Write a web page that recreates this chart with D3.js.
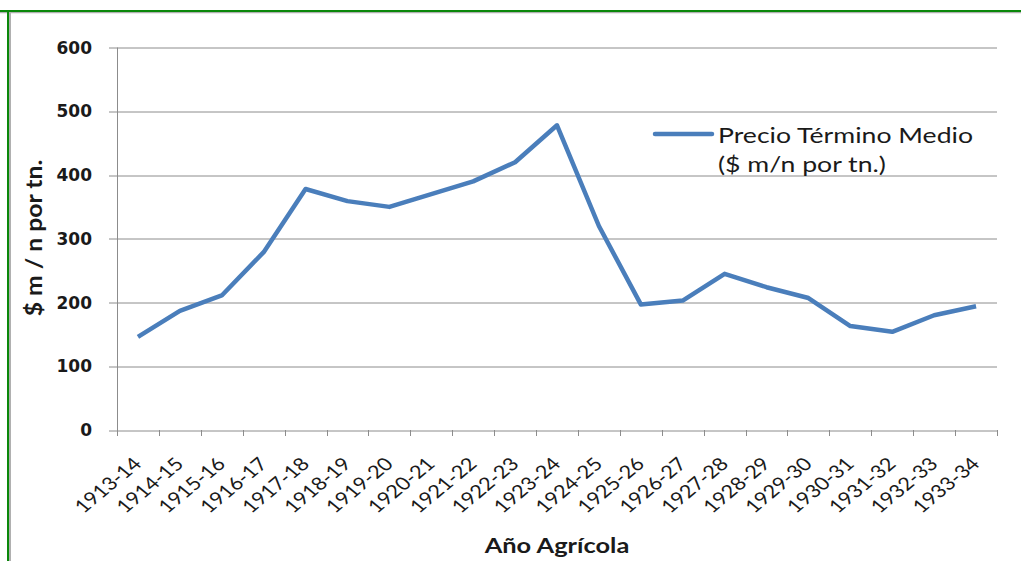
<!DOCTYPE html>
<html>
<head>
<meta charset="utf-8">
<script src="https://cdn.jsdelivr.net/npm/d3@7"></script>
<style>
  html, body { margin: 0; padding: 0; background: #fff; }
  svg { display: block; }
</style>
</head>
<body>
<div id="chart"></div>
<script>
const categories = ['1913-14', '1914-15', '1915-16', '1916-17', '1917-18', '1918-19', '1919-20',
  '1920-21', '1921-22', '1922-23', '1923-24', '1924-25', '1925-26', '1926-27', '1927-28',
  '1928-29', '1929-30', '1930-31', '1931-32', '1932-33', '1933-34'];
const precios = [146, 187, 211, 279, 378, 359, 350, 370, 390, 420, 478, 320, 197, 203, 245,
  224, 207, 163, 154, 180, 194];
const yTicks = [0, 100, 200, 300, 400, 500, 600];
const serieLabel = ['Precio Término Medio', '($ m/n por tn.)'];

const width = 1021, height = 561;
const margin = { top: 47.5, right: 24, bottom: 131, left: 117 };
const innerW = width - margin.left - margin.right;
const innerH = height - margin.top - margin.bottom;
// el gráfico original está estirado en horizontal
const stretch = 1.21;

const svg = d3.select('#chart')
  .append('svg')
  .attr('width', width)
  .attr('height', height);

// marco verde con sombra gris
svg.append('line').attr('x1', 0).attr('x2', width).attr('y1', 12.5).attr('y2', 12.5)
  .attr('stroke', '#b0b0b0').attr('stroke-width', 1.5);
svg.append('line').attr('x1', 10).attr('x2', 10).attr('y1', 11).attr('y2', height)
  .attr('stroke', '#b0b0b0').attr('stroke-width', 2);
svg.append('line').attr('x1', 0).attr('x2', width).attr('y1', 11).attr('y2', 11)
  .attr('stroke', '#0a870a').attr('stroke-width', 2);
svg.append('line').attr('x1', 8).attr('x2', 8).attr('y1', 10).attr('y2', height)
  .attr('stroke', '#0a870a').attr('stroke-width', 2);

const g = svg.append('g')
  .attr('transform', `translate(${margin.left},${margin.top})`);

const x = d3.scaleBand()
  .domain(categories)
  .range([0, innerW])
  .padding(0);

const y = d3.scaleLinear()
  .domain([0, 600])
  .range([innerH, 0]);

// grilla horizontal
g.append('g')
  .selectAll('line')
  .data(yTicks)
  .enter()
  .append('line')
  .attr('x1', -8)
  .attr('x2', innerW)
  .attr('y1', d => Math.round(y(d)) + 0.5)
  .attr('y2', d => Math.round(y(d)) + 0.5)
  .attr('stroke', '#8c8c8c')
  .attr('stroke-width', 1);

// eje Y
g.append('line')
  .attr('x1', 0.5).attr('x2', 0.5)
  .attr('y1', 0).attr('y2', innerH + 5)
  .attr('stroke', '#8c8c8c');

g.append('g')
  .selectAll('text')
  .data(yTicks)
  .enter()
  .append('text')
  .attr('x', -25)
  .attr('y', d => y(d))
  .attr('dy', '0.36em')
  .attr('text-anchor', 'end')
  .attr('font-family', 'DejaVu Sans, sans-serif')
  .attr('font-weight', 'bold')
  .attr('font-size', '17px')
  .attr('fill', '#1a1a1a')
  .text(d => d);

// eje X: marcas en los límites de cada categoría
const bounds = categories.map(c => x(c)).concat([x.range()[1]]);
g.append('g')
  .selectAll('line')
  .data(bounds)
  .enter()
  .append('line')
  .attr('x1', d => Math.round(d) + 0.5)
  .attr('x2', d => Math.round(d) + 0.5)
  .attr('y1', innerH)
  .attr('y2', innerH + 6)
  .attr('stroke', '#8c8c8c');

g.append('g')
  .selectAll('text')
  .data(categories)
  .enter()
  .append('text')
  .attr('transform', d => `translate(${x(d) + x.bandwidth() / 2 + 5},${innerH + 35}) scale(${stretch},1) rotate(-45)`)
  .attr('text-anchor', 'end')
  .attr('font-family', 'Lato, sans-serif')
  .attr('font-size', '18px')
  .attr('fill', '#1a1a1a')
  .text(d => d);

// serie
const line = d3.line()
  .x((d, i) => x(categories[i]) + x.bandwidth() / 2)
  .y(d => y(d));

g.append('path')
  .datum(precios)
  .attr('fill', 'none')
  .attr('stroke', '#4a7ebb')
  .attr('stroke-width', 4.5)
  .attr('stroke-linejoin', 'round')
  .attr('d', line);

// leyenda
const leg = svg.append('g').attr('transform', 'translate(655,134)');
leg.append('line')
  .attr('x1', 0).attr('x2', 57)
  .attr('y1', 0).attr('y2', 0)
  .attr('stroke', '#4a7ebb')
  .attr('stroke-width', 4.5)
  .attr('stroke-linecap', 'round');
leg.selectAll('text')
  .data(serieLabel)
  .enter()
  .append('text')
  .attr('transform', (d, i) => `translate(63,${8.5 + i * 29.5}) scale(${stretch},1)`)
  .attr('font-family', 'Lato, sans-serif')
  .attr('font-size', '22px')
  .attr('fill', '#1a1a1a')
  .text(d => d);

// títulos de ejes
svg.append('text')
  .attr('transform', 'translate(42,238) rotate(-90) scale(1.18,1.12)')
  .attr('text-anchor', 'middle')
  .attr('font-family', 'Lato, sans-serif')
  .attr('font-weight', 'bold')
  .attr('font-size', '21px')
  .attr('fill', '#1a1a1a')
  .text('$ m / n por tn.');

svg.append('text')
  .attr('transform', `translate(557,553) scale(${stretch},1)`)
  .attr('text-anchor', 'middle')
  .attr('font-family', 'Lato, sans-serif')
  .attr('font-weight', 'bold')
  .attr('font-size', '21px')
  .attr('fill', '#1a1a1a')
  .text('Año Agrícola');
</script>
</body>
</html>
